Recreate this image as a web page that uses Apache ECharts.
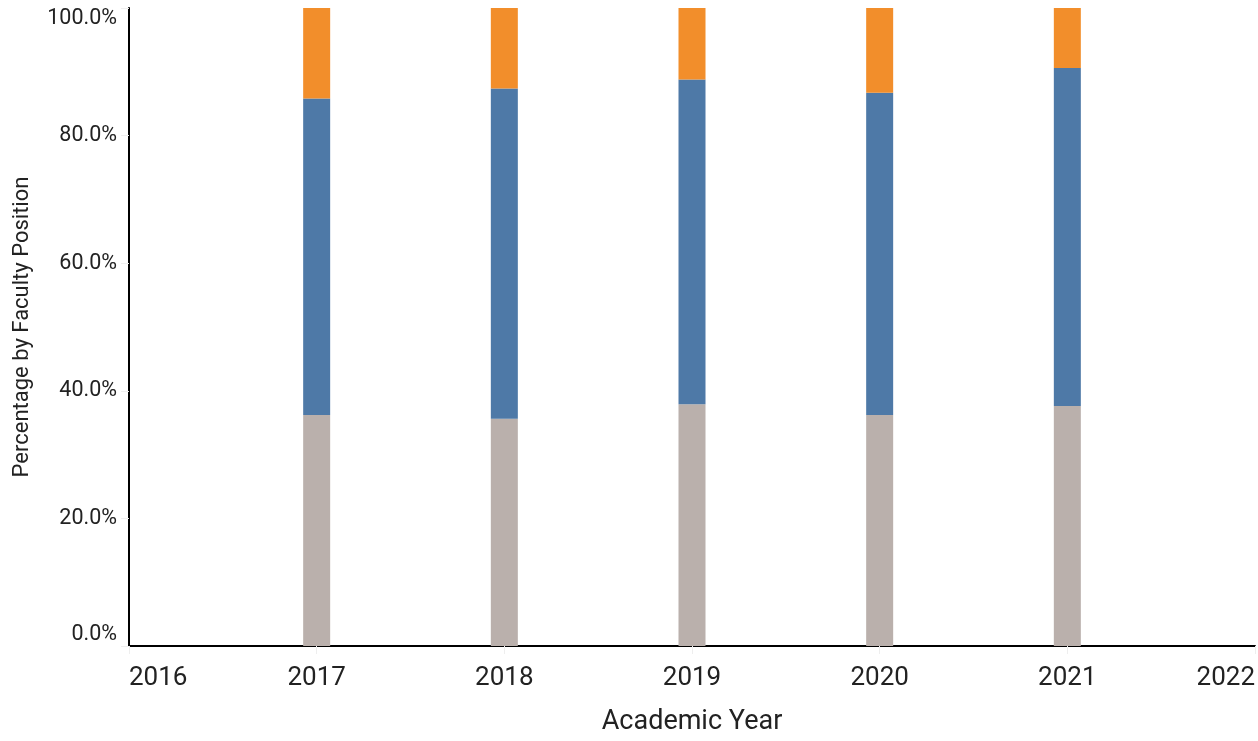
<!DOCTYPE html>
<html>
<head>
<meta charset="utf-8">
<script src="https://cdn.jsdelivr.net/npm/echarts@6/dist/echarts.min.js"></script>
<style>
html,body{margin:0;padding:0;background:#fff;}
#chart{width:1258px;height:741px;}
</style>
</head>
<body>
<div id="chart"></div>
<script>
var yearTicks = ['2016', '2017', '2018', '2019', '2020', '2021', '2022'];
var greyShare = [null, 36.2, 35.6, 37.9, 36.2, 37.6, null];
var blueShare = [null, 49.6, 51.8, 50.9, 50.5, 53.0, null];
var orangeShare = [null, 14.2, 12.6, 11.2, 13.3, 9.4, null];
var seriesNames = ['Non-Tenure Track', 'Tenured', 'Tenure Track'];
var seriesColors = ['#BAB0AC', '#4E79A7', '#F28E2B'];

var allVals = [greyShare, blueShare, orangeShare];

var chart = echarts.init(document.getElementById('chart'));
chart.setOption({
  animation: false,
  grid: { left: 129, right: -2, top: 8, bottom: 91 },
  xAxis: {
    type: 'category', data: yearTicks, boundaryGap: false,
    name: 'Academic Year', nameLocation: 'middle', nameGap: 63,
    nameTextStyle: { fontFamily: 'Roboto', fontSize: 27, color: '#222' },
    axisLine: { show: true, lineStyle: { color: '#000', width: 2 } },
    axisTick: { show: true, length: 8, lineStyle: { color: '#eee' } },
    splitLine: { show: false },
    axisLabel: {
      fontFamily: 'Roboto', fontSize: 26, color: '#222', margin: 19,
      alignMinLabel: 'left', alignMaxLabel: 'right', interval: 0
    }
  },
  yAxis: {
    type: 'value', min: 0, max: 100, interval: 20,
    name: 'Percentage by Faculty Position', nameLocation: 'middle', nameGap: 96,
    nameTextStyle: { fontFamily: 'Roboto', fontSize: 22, color: '#222' },
    axisLine: { show: true, lineStyle: { color: '#000', width: 2 } },
    axisTick: { show: true, length: 8, lineStyle: { color: '#eee' } },
    splitLine: { show: false },
    axisLabel: {
      fontFamily: 'Roboto', fontSize: 21.5, color: '#222', margin: 12,
      verticalAlignMinLabel: 'bottom', verticalAlignMaxLabel: 'top',
      formatter: function (v) { return v.toFixed(1) + '%'; }
    }
  },
  series: allVals.map(function (vals, i) {
    return {
      name: seriesNames[i], type: 'bar', stack: 'total', barWidth: 27,
      itemStyle: { color: seriesColors[i] },
      data: vals
    };
  })
});
</script>
</body>
</html>
